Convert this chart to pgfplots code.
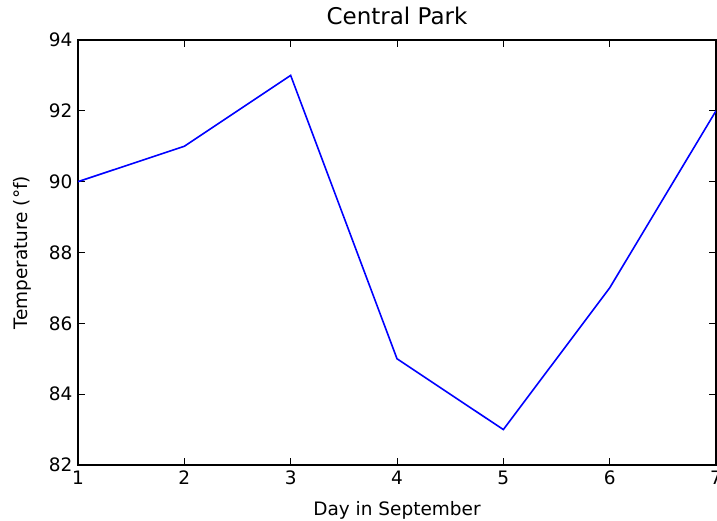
\documentclass[border=0pt]{standalone}
\usepackage{fontspec}
\setmainfont{DejaVu Sans}
\usepackage{pgfplots}
\pgfplotsset{compat=1.18}
\begin{document}
\begin{tikzpicture}
\begin{axis}[
  scale only axis,
  width=638pt, height=425pt,
  xmin=1, xmax=7, ymin=82, ymax=94,
  xtick={1,2,3,4,5,6,7},
  ytick={82,84,86,88,90,92,94},
  tick align=inside,
  major tick length=7pt,
  tick style={black, line width=0.8pt},
  axis line style={black, line width=1.4pt},
  /pgf/number format/assume math mode=true,
  tick label style={font=\fontsize{18.5}{22}\selectfont},
  xticklabel style={yshift=-2pt},
  yticklabel style={xshift=-2pt},
  title style={font=\fontsize{23}{27}\selectfont, at={(axis description cs:0.5,1.042)}, anchor=center},
  every axis x label/.style={at={(axis description cs:0.5,-0.106)}, anchor=center, font=\fontsize{18.5}{22}\selectfont},
  every axis y label/.style={at={(axis description cs:-0.0878,0.5)}, rotate=90, anchor=center, font=\fontsize{18.5}{22}\selectfont},
  title={Central Park},
  xlabel={Day in September},
  ylabel={Temperature (°f)},
]
\addplot[color={rgb,1:red,0;green,0;blue,1}, line width=1.6pt] coordinates {
  (1,90) (2,91) (3,93) (4,85) (5,83) (6,87) (7,92)
};
\end{axis}
\pgfresetboundingbox
\path[use as bounding box] (-78pt,-55pt) rectangle (639pt,465pt);
\end{tikzpicture}
\end{document}
